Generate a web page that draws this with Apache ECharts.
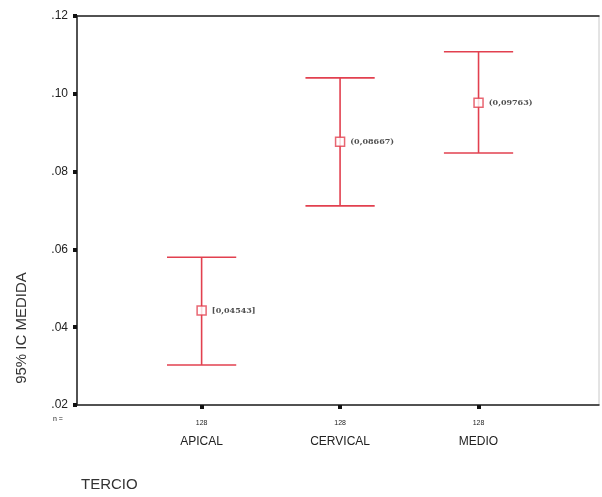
<!DOCTYPE html>
<html>
<head>
<meta charset="utf-8">
<script src="https://cdn.jsdelivr.net/npm/echarts@6/dist/echarts.min.js"></script>
<style>html,body{margin:0;padding:0;background:#fff;}#c{width:602px;height:497px;}</style>
</head>
<body>
<div id="c"></div>
<script>
var categories = ["APICAL", "CERVICAL", "MEDIO"];
var counts = [128, 128, 128];
var means = [0.0443, 0.0877, 0.0977];
var lowerCI = [0.0303, 0.0712, 0.0848];
var upperCI = [0.0580, 0.1041, 0.1108];
var meanLabels = ["[0,04543]", "(0,08667)", "(0,09763)"];
var yTicks = [0.02, 0.04, 0.06, 0.08, 0.10, 0.12];

var RED = '#e2404f';
var positions = categories.map(function (c, i) { return i + 1; });

var chart = echarts.init(document.getElementById('c'));
chart.setOption({
  backgroundColor: '#ffffff',
  animation: false,
  textStyle: { fontFamily: 'Liberation Sans, Arial, sans-serif' },
  title: {
    text: 'TERCIO', left: 76, top: 472,
    textStyle: { fontSize: 15, fontWeight: 'normal', color: '#333' }
  },
  graphic: [
    { type: 'text', x: 22, y: 328, rotation: Math.PI / 2,
      style: { text: '95% IC MEDIDA', fontSize: 15, fill: '#333', align: 'center', verticalAlign: 'middle', fontFamily: 'Liberation Sans, Arial, sans-serif' } },
    { type: 'text', x: 53, y: 416,
      style: { text: 'n =', fontSize: 7, fill: '#222', fontFamily: 'Liberation Sans, Arial, sans-serif' } }
  ],
  grid: { left: 77, right: 3, top: 16, bottom: 92, show: true, borderColor: '#c8c8c8', borderWidth: 1 },
  xAxis: [{
    type: 'value', min: 0.1, max: 3.87,
    splitLine: { show: false },
    axisLine: { show: true, onZero: false, lineStyle: { color: '#222', width: 1.5 } },
    axisTick: { show: true, customValues: positions, length: 4, lineStyle: { color: '#111', width: 4 } },
    axisLabel: {
      customValues: positions, margin: 10, color: '#222',
      formatter: function (v) {
        var i = Math.round(v) - 1;
        return '{n|' + counts[i] + '}\n{c|' + categories[i] + '}';
      },
      rich: {
        n: { fontSize: 7, lineHeight: 16, color: '#222' },
        c: { fontSize: 12, lineHeight: 22, color: '#222' }
      }
    }
  }, {
    type: 'value', position: 'top', min: 0.1, max: 3.87,
    splitLine: { show: false },
    axisLine: { show: true, onZero: false, lineStyle: { color: '#222', width: 1.5 } },
    axisTick: { show: false }, axisLabel: { show: false }
  }],
  yAxis: {
    type: 'value', min: 0.02, max: 0.12, interval: 0.02,
    splitLine: { show: false },
    axisLine: { show: true, onZero: false, lineStyle: { color: '#222', width: 1.5 } },
    axisTick: { show: true, length: 4, lineStyle: { color: '#111', width: 4 } },
    axisLabel: {
      margin: 9, fontSize: 12, color: '#222',
      formatter: function (v) { return v.toFixed(2).replace(/^0\./, '.'); }
    }
  },
  series: [{
    type: 'custom',
    data: positions.map(function (p, i) { return [p, lowerCI[i], upperCI[i]]; }),
    renderItem: function (params, api) {
      var x = api.value(0);
      var lo = api.coord([x, api.value(1)]);
      var hi = api.coord([x, api.value(2)]);
      var capL = api.coord([x - 0.25, api.value(1)])[0];
      var capR = api.coord([x + 0.25, api.value(1)])[0];
      var st = { stroke: RED, lineWidth: 1.6 };
      return {
        type: 'group',
        children: [
          { type: 'line', shape: { x1: lo[0], y1: lo[1], x2: hi[0], y2: hi[1] }, style: st },
          { type: 'line', shape: { x1: capL, y1: hi[1], x2: capR, y2: hi[1] }, style: st },
          { type: 'line', shape: { x1: capL, y1: lo[1], x2: capR, y2: lo[1] }, style: st }
        ]
      };
    },
    z: 2
  }, {
    type: 'scatter',
    data: positions.map(function (p, i) { return [p, means[i]]; }),
    symbol: 'rect', symbolSize: 9,
    itemStyle: { color: '#fff', borderColor: RED, borderWidth: 1.5 },
    label: {
      show: true, position: 'right', distance: 5,
      formatter: function (p) { return meanLabels[p.dataIndex]; },
      fontSize: 8, fontWeight: 'bold', color: '#222',
      fontFamily: 'DejaVu Serif, serif'
    },
    z: 3
  }]
});
</script>
</body>
</html>
